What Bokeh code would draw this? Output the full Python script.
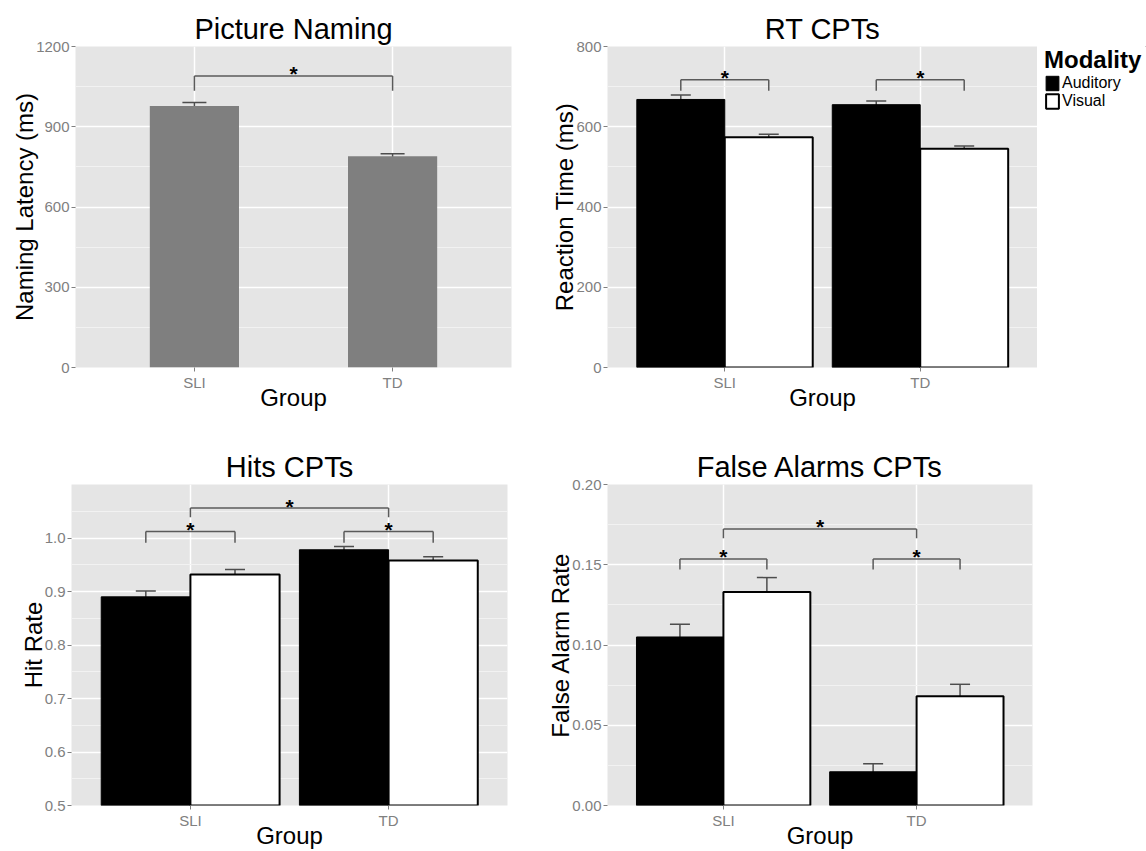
from bokeh.plotting import figure
from bokeh.models import (FactorRange, Range1d, ColumnDataSource, Whisker, TeeHead, Legend, LegendItem,
                          SingleIntervalTicker, FixedTicker, PrintfTickFormatter)
from bokeh.transform import dodge
from bokeh.layouts import column, row
from bokeh.embed import file_html
from bokeh.resources import INLINE
from bokeh.core.properties import value

# ---------------- data ----------------
groups = ["SLI", "TD"]
modalities = ["Auditory", "Visual"]

naming_mean = [978, 790]
naming_se = [13, 9]

rt_aud = [668, 655]
rt_aud_se = [11, 9]
rt_vis = [574, 545]
rt_vis_se = [7, 7]

hit_aud = [0.890, 0.978]
hit_aud_se = [0.011, 0.006]
hit_vis = [0.932, 0.958]
hit_vis_se = [0.009, 0.007]

fa_aud = [0.105, 0.021]
fa_aud_se = [0.008, 0.005]
fa_vis = [0.133, 0.068]
fa_vis_se = [0.009, 0.0075]

# significance brackets
naming_between = dict(frm=["SLI"], to=["TD"], top=[1090], leg=[1035])
rt_within = dict(group=["SLI", "TD"], top=[717, 717], leg=[690, 690])
hit_within = dict(group=["SLI", "TD"], top=[1.012, 1.012], leg=[0.991, 0.991])
hit_between = dict(frm=["SLI"], to=["TD"], top=[1.056], leg=[1.039])
fa_within = dict(group=["SLI", "TD"], top=[0.1536, 0.1536], leg=[0.147, 0.147])
fa_between = dict(frm=["SLI"], to=["TD"], top=[0.1723], leg=[0.1665])

hit_ticks = [0.5, 0.6, 0.7, 0.8, 0.9, 1.0]
hit_minor = [0.55, 0.65, 0.75, 0.85, 0.95, 1.05]

# ---------------- style ----------------
FONT = "Liberation Sans"
PANEL = "#E5E5E5"
ERR = "#4D4D4D"
BRK = "#5A5A5A"
DODGE = 0.225
BARW = 0.45


def make_fig(title, ylabel, yr, width, height, left, right, top, bottom):
    p = figure(x_range=FactorRange(factors=groups, range_padding=0.1, range_padding_units="absolute"),
               y_range=Range1d(*yr), width=width, height=height,
               output_backend="svg", toolbar_location=None,
               min_border_left=left, min_border_right=right,
               min_border_top=top, min_border_bottom=bottom, title=title)
    p.background_fill_color = PANEL
    p.border_fill_color = "white"
    p.outline_line_color = None
    p.title.text_font = FONT
    p.title.text_font_size = "29px"
    p.title.text_font_style = "normal"
    p.title.text_color = "black"
    p.title.align = "center"
    p.title.standoff = 3
    p.xaxis.axis_label = "Group"
    p.yaxis.axis_label = ylabel
    for ax in p.axis:
        ax.axis_line_color = None
        ax.major_tick_line_color = "#7F7F7F"
        ax.major_tick_out = 4
        ax.major_tick_in = 0
        ax.minor_tick_line_color = None
        ax.major_label_text_color = "#808080"
        ax.major_label_text_font = FONT
        ax.major_label_text_font_size = "15px"
        ax.major_label_standoff = 2
        ax.axis_label_text_font = FONT
        ax.axis_label_text_font_size = "24px"
        ax.axis_label_text_font_style = "normal"
        ax.axis_label_text_color = "black"
    p.xaxis.axis_label_standoff = -10
    p.yaxis.axis_label_standoff = -5
    p.xgrid.grid_line_color = "white"
    p.xgrid.grid_line_width = 1.5
    p.ygrid.grid_line_color = "white"
    p.ygrid.grid_line_width = 1.5
    p.ygrid.minor_grid_line_color = "#F2F2F2"
    p.ygrid.minor_grid_line_width = 1
    return p


def add_whisker(p, src, base, lo, hi, size=20):
    w = Whisker(base=base, upper=hi, lower=lo, source=src, line_color=ERR, line_width=1.5,
                upper_head=TeeHead(size=size, line_color=ERR, line_width=1.5),
                lower_head=TeeHead(size=size, line_color=ERR, line_width=1.5))
    p.add_layout(w)


def star(p, src, x):
    src.data["star"] = ["*"] * len(src.data["top"])
    p.text(x=x, y="top", text="star", source=src, text_font=value(FONT),
           text_font_size="21px", text_font_style="bold", text_align="center",
           text_baseline="middle", text_color="black", y_offset=-2)


def within_brackets(p, d):
    src = ColumnDataSource(dict(d))
    xl = dodge("group", -DODGE, range=p.x_range)
    xr = dodge("group", DODGE, range=p.x_range)
    p.segment(x0=xl, y0="top", x1=xr, y1="top", source=src, line_color=BRK, line_width=1.5)
    p.segment(x0=xl, y0="leg", x1=xl, y1="top", source=src, line_color=BRK, line_width=1.5)
    p.segment(x0=xr, y0="leg", x1=xr, y1="top", source=src, line_color=BRK, line_width=1.5)
    star(p, src, "group")


def between_brackets(p, d):
    src = ColumnDataSource(dict(d))
    p.segment(x0="frm", y0="top", x1="to", y1="top", source=src, line_color=BRK, line_width=1.5)
    p.segment(x0="frm", y0="leg", x1="frm", y1="top", source=src, line_color=BRK, line_width=1.5)
    p.segment(x0="to", y0="leg", x1="to", y1="top", source=src, line_color=BRK, line_width=1.5)
    star(p, src, dodge("frm", 0.5, range=p.x_range))


def grouped_bars(p, aud, aud_se, vis, vis_se, bottom=0):
    src = ColumnDataSource(dict(
        group=groups, aud=aud, vis=vis,
        aud_lo=[m - s for m, s in zip(aud, aud_se)], aud_hi=[m + s for m, s in zip(aud, aud_se)],
        vis_lo=[m - s for m, s in zip(vis, vis_se)], vis_hi=[m + s for m, s in zip(vis, vis_se)]))
    xa = dodge("group", -DODGE, range=p.x_range)
    xv = dodge("group", DODGE, range=p.x_range)
    ra = p.vbar(x=xa, top="aud", bottom=bottom, width=BARW, source=src,
                fill_color="black", line_color="black", line_width=1)
    rv = p.vbar(x=xv, top="vis", bottom=bottom, width=BARW, source=src,
                fill_color="white", line_color="black", line_width=2)
    add_whisker(p, src, xa, "aud_lo", "aud_hi")
    add_whisker(p, src, xv, "vis_lo", "vis_hi")
    return ra, rv


# ---------------- panel 1: Picture Naming ----------------
p1 = make_fig("Picture Naming", "Naming Latency (ms)", (0, 1200), 545, 438, 75, 34, 46, 71)
p1.yaxis.ticker = SingleIntervalTicker(interval=300, num_minor_ticks=2)
src1 = ColumnDataSource(dict(group=groups, mean=naming_mean,
                             lo=[m - s for m, s in zip(naming_mean, naming_se)],
                             hi=[m + s for m, s in zip(naming_mean, naming_se)]))
p1.vbar(x="group", top="mean", bottom=0, width=BARW, source=src1,
        fill_color="#7F7F7F", line_color=None)
add_whisker(p1, src1, "group", "lo", "hi", size=24)
between_brackets(p1, naming_between)

# ---------------- panel 2: RT CPTs ----------------
p2 = make_fig("RT CPTs", "Reaction Time (ms)", (0, 800), 492, 438, 62, 0, 46, 71)
p2.yaxis.ticker = SingleIntervalTicker(interval=200, num_minor_ticks=2)
grouped_bars(p2, rt_aud, rt_aud_se, rt_vis, rt_vis_se)
within_brackets(p2, rt_within)

# legend panel (Modality key); its key renderers sit outside the visible range
pl = figure(width=109, height=438, output_backend="svg", toolbar_location=None,
            x_axis_location=None, y_axis_location=None,
            x_range=Range1d(0, 1), y_range=Range1d(0, 1),
            min_border_left=7, min_border_top=40, min_border_right=0, min_border_bottom=0)
pl.grid.visible = False
pl.outline_line_color = None
pl.background_fill_color = "white"
pl.border_fill_color = "white"
la = pl.vbar(x=[5], top=[6], bottom=[5], width=0.45, fill_color="black", line_color="black", line_width=1)
lv = pl.vbar(x=[5], top=[6], bottom=[5], width=0.45, fill_color="white", line_color="black", line_width=2)
legend = Legend(items=[LegendItem(label=modalities[0], renderers=[la]),
                       LegendItem(label=modalities[1], renderers=[lv])],
                title="Modality", location="top_left")
legend.title_text_font = FONT
legend.title_text_font_size = "24px"
legend.title_text_font_style = "bold"
legend.title_text_color = "black"
legend.title_standoff = 0
legend.label_text_font = FONT
legend.label_text_font_size = "16px"
legend.label_text_color = "black"
legend.glyph_width = 16
legend.glyph_height = 18
legend.label_height = 17
legend.label_standoff = 2
legend.spacing = 0
legend.padding = 0
legend.margin = 0
legend.border_line_color = None
legend.background_fill_alpha = 0
pl.add_layout(legend)

# ---------------- panel 3: Hits CPTs ----------------
p3 = make_fig("Hits CPTs", "Hit Rate", (0.5, 1.1), 541, 413, 71, 34, 46, 46)
p3.yaxis.ticker = FixedTicker(ticks=hit_ticks, minor_ticks=hit_minor)
p3.yaxis.formatter = PrintfTickFormatter(format="%.1f")
grouped_bars(p3, hit_aud, hit_aud_se, hit_vis, hit_vis_se, bottom=0.5)
within_brackets(p3, hit_within)
between_brackets(p3, hit_between)

# ---------------- panel 4: False Alarms CPTs ----------------
p4 = make_fig("False Alarms CPTs", "False Alarm Rate", (0, 0.2), 605, 413, 66, 114, 46, 46)
p4.yaxis.ticker = SingleIntervalTicker(interval=0.05, num_minor_ticks=2)
p4.yaxis.formatter = PrintfTickFormatter(format="%.2f")
grouped_bars(p4, fa_aud, fa_aud_se, fa_vis, fa_vis_se)
within_brackets(p4, fa_within)
between_brackets(p4, fa_between)

layout = column(row(p1, p2, pl), row(p3, p4))
open("out.html", "w").write(file_html(layout, INLINE))
